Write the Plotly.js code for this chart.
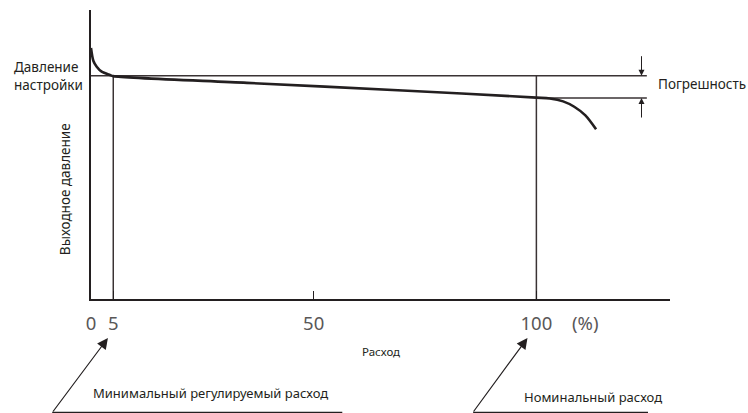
<!DOCTYPE html>
<html>
<head>
<meta charset="utf-8">
<script src="https://cdn.plot.ly/plotly-3.0.1.min.js"></script>
<style>html,body{margin:0;padding:0;background:#fff;}#chart{width:748px;height:413px;}</style>
</head>
<body>
<div id="chart"></div>
<script>
// Flow (%) vs outlet pressure (relative to set pressure = 1.0)
const flow = [0, 0.52, 1.28, 2.4, 4.27, 5, 35, 70, 100, 103, 106, 108.5, 111, 113.4];
const pressure = [1.124, 1.067, 1.040, 1.018, 1.003, 0.998, 0.968, 0.934, 0.902, 0.898, 0.885, 0.861, 0.822, 0.760];
const setPressure = 1.0;
const toleranceLow = 0.9;
const minFlow = 5;
const nominalFlow = 100;
const tickVals = [0, 5, 50, 100];
const tickText = ['0', '5', '50', '100'];
const lineEnd = 124.8;

const dark = '#231f20';
const refc = '#3a3334';

const traces = [
  {x: [0, lineEnd], y: [setPressure, setPressure], mode: 'lines', line: {color: refc, width: 1.5}, hoverinfo: 'skip'},
  {x: [nominalFlow, lineEnd], y: [toleranceLow, toleranceLow], mode: 'lines', line: {color: refc, width: 1.5}, hoverinfo: 'skip'},
  {x: [minFlow, minFlow], y: [0, setPressure], mode: 'lines', line: {color: refc, width: 1.5}, hoverinfo: 'skip'},
  {x: [nominalFlow, nominalFlow], y: [0, setPressure], mode: 'lines', line: {color: refc, width: 1.5}, hoverinfo: 'skip'},
  {x: flow, y: pressure, mode: 'lines', line: {color: dark, width: 2.6, shape: 'spline', smoothing: 0.8}, hoverinfo: 'skip'}
];

const font = 'Noto Sans, DejaVu Sans, sans-serif';
const layout = {
  width: 748, height: 413,
  margin: {l: 91, r: 78, t: 10, b: 114},
  paper_bgcolor: '#fff', plot_bgcolor: '#fff',
  showlegend: false,
  xaxis: {
    range: [0, 130], showgrid: false, zeroline: false,
    showline: true, linecolor: dark, linewidth: 2,
    tickvals: tickVals, ticktext: tickText,
    ticks: 'inside', ticklen: 8, tickwidth: 1.5, tickcolor: dark,
    ticklabelstandoff: 7,
    tickfont: {family: font, size: 18.5, color: '#595757'}
  },
  yaxis: {
    range: [0, 1.2942], showgrid: false, zeroline: false,
    showline: true, linecolor: dark, linewidth: 2,
    showticklabels: false, ticks: ''
  },
  annotations: [
    {xref: 'paper', yref: 'paper', x: -0.137, y: 0.77, xanchor: 'left', yanchor: 'middle',
     text: 'Давление<br>настройки', showarrow: false, align: 'left',
     font: {family: font, size: 13.5, color: dark}},
    {xref: 'paper', yref: 'paper', x: -0.045, y: 0.38, xanchor: 'center', yanchor: 'middle',
     text: 'Выходное давление', textangle: -90, showarrow: false,
     font: {family: font, size: 13.5, color: dark}},
    {xref: 'paper', yref: 'paper', x: 1.135, y: 0.745, xanchor: 'right', yanchor: 'middle',
     text: 'Погрешность', showarrow: false,
     font: {family: font, size: 13.5, color: dark}},
    {xref: 'x', yref: 'paper', x: nominalFlow + 11, y: -0.08, xanchor: 'center', yanchor: 'middle',
     text: '(%)', showarrow: false,
     font: {family: font, size: 18.5, color: '#595757'}},
    {xref: 'paper', yref: 'paper', x: 0.5, y: -0.18, xanchor: 'center', yanchor: 'middle',
     text: 'Расход', showarrow: false,
     font: {family: font, size: 11.5, color: dark}},
    {xref: 'paper', yref: 'paper', x: 0.0, y: -0.325, xanchor: 'left', yanchor: 'middle',
     text: 'Минимальный регулируемый расход', showarrow: false,
     font: {family: font, size: 13, color: dark}},
    {xref: 'paper', yref: 'paper', x: 0.745, y: -0.34, xanchor: 'left', yanchor: 'middle',
     text: 'Номинальный расход', showarrow: false,
     font: {family: font, size: 13, color: dark}},
    // arrows to min / nominal flow labels
    {xref: 'x', yref: 'paper', x: minFlow - 1.2, y: -0.135, text: '', showarrow: true,
     axref: 'pixel', ayref: 'pixel', ax: -56, ay: 75,
     arrowhead: 2, arrowsize: 1.8, arrowwidth: 1.2, arrowcolor: dark, standoff: 0, startstandoff: 0},
    {xref: 'x', yref: 'paper', x: nominalFlow - 2, y: -0.135, text: '', showarrow: true,
     axref: 'pixel', ayref: 'pixel', ax: -55, ay: 75,
     arrowhead: 2, arrowsize: 1.8, arrowwidth: 1.2, arrowcolor: dark, standoff: 0, startstandoff: 0},
    // tolerance arrows
    {xref: 'x', yref: 'y', x: 123.6, y: setPressure, text: '', showarrow: true,
     axref: 'pixel', ayref: 'pixel', ax: 0, ay: -21,
     arrowhead: 2, arrowsize: 1.2, arrowwidth: 1, arrowcolor: dark, standoff: 0, startstandoff: 0},
    {xref: 'x', yref: 'y', x: 123.6, y: toleranceLow, text: '', showarrow: true,
     axref: 'pixel', ayref: 'pixel', ax: 0, ay: 21,
     arrowhead: 2, arrowsize: 1.2, arrowwidth: 1, arrowcolor: dark, standoff: 0, startstandoff: 0}
  ],
  shapes: [
    {type: 'line', xref: 'paper', yref: 'paper', x0: -0.067, x1: 0.434, y0: -0.392, y1: -0.392,
     line: {color: dark, width: 1.2}},
    {type: 'line', xref: 'paper', yref: 'paper', x0: 0.660, x1: 0.962, y0: -0.392, y1: -0.392,
     line: {color: dark, width: 1.2}}
  ]
};

Plotly.newPlot('chart', traces, layout, {displayModeBar: false, staticPlot: true});
</script>
</body>
</html>
